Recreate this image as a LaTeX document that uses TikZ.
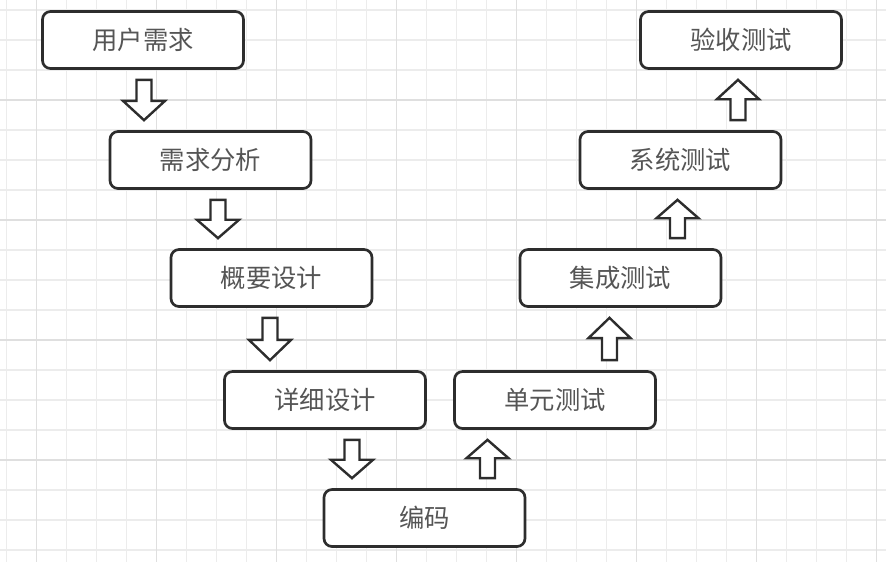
\documentclass[tikz,border=0pt]{standalone}
\usepackage{fontspec}
\setmainfont{Noto Sans CJK SC}
\usetikzlibrary{calc}

\definecolor{gridminor}{RGB}{236,236,236}
\definecolor{gridmajor}{RGB}{223,223,223}
\definecolor{boxline}{RGB}{45,45,45}
\definecolor{labelgray}{RGB}{85,85,85}

% hollow block arrow between two points (vertical only)
\newcommand{\blockarrow}[2]{%
  \draw[block arrow] let \p1=(#1), \p2=(#2), \p3=($(#1)!0.52!(#2)$) in
    (\x1-5.6pt,\y1) -- (\x1+5.6pt,\y1) -- (\x1+5.6pt,\y3) -- (\x1+15.8pt,\y3)
    -- (\x1,\y2) -- (\x1-15.8pt,\y3) -- (\x1-5.6pt,\y3) -- cycle;}

\begin{document}
\begin{tikzpicture}[
    x=0.75pt, y=-0.75pt,
    % --- Styles ---
    minor grid/.style={draw=gridminor, line width=0.8pt},
    major grid/.style={draw=gridmajor, line width=0.8pt},
    % Rounded stage boxes of the V model
    stage box/.style={draw=boxline, line width=2pt, rounded corners=6pt,
        fill=white, minimum width=150.75pt, minimum height=42.75pt,
        inner sep=0pt, text=labelgray, font=\fontsize{19}{22}\selectfont},
    block arrow/.style={draw=boxline, line width=1.8pt, fill=white,
        line join=miter}
]

%================CONFIGURATION================
% \gapout: distance between a box edge and an arrow end
\def\gapout{10}
%=============================================

\useasboundingbox (0,0) rectangle (886,562);

% --- 1. Background Grid ---
\foreach \k in {0,...,29} {
    \draw[minor grid] (6.7+30*\k,0) -- (6.7+30*\k,562);
}
\foreach \k in {0,...,18} {
    \draw[minor grid] (0,10+30*\k) -- (886,10+30*\k);
}
\foreach \k in {0,...,7} {
    \draw[major grid] (36.7+120*\k,0) -- (36.7+120*\k,562);
}
\foreach \k in {0,...,3} {
    \draw[major grid] (0,100+120*\k) -- (886,100+120*\k);
}

% --- 2. Stage Boxes ---
\foreach \name/\x/\y/\txt in {
    req/143/40/用户需求,
    ana/210.5/160/需求分析,
    hld/271.5/278/概要设计,
    lld/325/400/详细设计,
    code/424.5/518/编码,
    ut/555/400/单元测试,
    it/620.5/278/集成测试,
    st/680.5/160/系统测试,
    acc/741/40/验收测试} {
    \node[stage box] (\name) at (\x,\y) {\txt};
}

% --- 3. Block Arrows ---
% down the left branch, up the right branch
\foreach \from/\to/\dx/\side/\oside/\g [count=\c] in {
    req/ana/1/south/north/1,
    ana/hld/7.5/south/north/1,
    hld/lld/-1.5/south/north/1,
    lld/code/27/south/north/1,
    code/ut/63/north/south/-1,
    ut/it/54.5/north/south/-1,
    it/st/57/north/south/-1,
    st/acc/57.5/north/south/-1} {

    \coordinate (A\c s) at ($(\from.\side)+(\dx,\g*\gapout)$);
    \coordinate (A\c e) at ($(A\c s |- \to.\oside)+(0,-\g*\gapout)$);
    \blockarrow{A\c s}{A\c e}
}

\end{tikzpicture}
\end{document}
